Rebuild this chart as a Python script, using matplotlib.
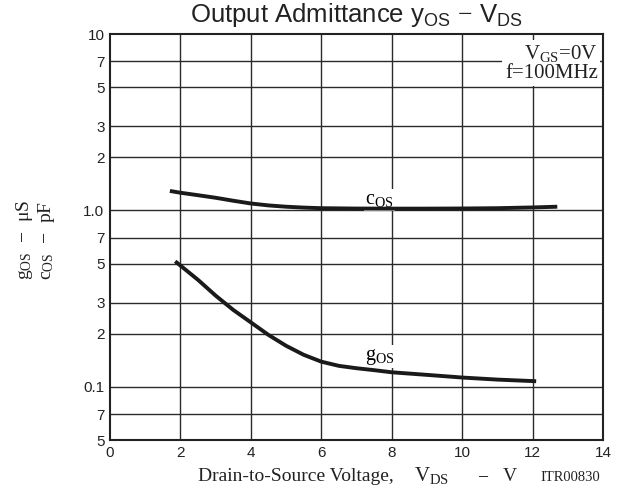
import numpy as np
import matplotlib.pyplot as plt

plt.rcParams['mathtext.fontset'] = 'custom'
plt.rcParams['mathtext.rm'] = 'Liberation Serif'
plt.rcParams['mathtext.it'] = 'Liberation Serif'
plt.rcParams['mathtext.sf'] = 'Liberation Sans'

# curve data
vds_c = [1.7, 2.0, 2.5, 3.0, 3.5, 4.0, 4.5, 5.0, 5.5, 6.0, 7.0, 8.0, 9.0, 10.0, 11.0, 12.0, 12.7]
cos_vals = [1.29, 1.26, 1.22, 1.18, 1.135, 1.095, 1.068, 1.05, 1.038, 1.03, 1.025, 1.024, 1.024,
            1.026, 1.03, 1.04, 1.05]
vds_g = [1.85, 2.0, 2.5, 3.0, 3.5, 4.0, 4.5, 5.0, 5.5, 6.0, 6.5, 7.0, 7.5, 8.0, 9.0, 10.0, 11.0, 12.1]
gos_vals = [0.515, 0.487, 0.404, 0.329, 0.273, 0.232, 0.197, 0.171, 0.152, 0.139, 0.1316, 0.1276,
            0.1244, 0.121, 0.117, 0.113, 0.110, 0.1077]

y_ticks = [10, 7, 5, 3, 2, 1.0, 0.7, 0.5, 0.3, 0.2, 0.1, 0.07, 0.05]
y_labels = ['10', '7', '5', '3', '2', '1.0', '7', '5', '3', '2', '0.1', '7', '5']
x_ticks = [0, 2, 4, 6, 8, 10, 12, 14]

fig = plt.figure(figsize=(6.23, 4.9), dpi=100)
ax = fig.add_axes([0.1766, 0.102, 0.7914, 0.8286])
ax.set_yscale('log')
ax.set_xlim(0, 14)
ax.set_ylim(0.05, 10)

ax.set_yticks(y_ticks)
ax.set_yticklabels(y_labels)
ax.yaxis.set_minor_locator(plt.NullLocator())
ax.set_xticks(x_ticks)
ax.tick_params(length=0, labelsize=11, pad=4)
for lab in ax.get_xticklabels() + ax.get_yticklabels():
    lab.set_fontfamily('Liberation Sans')
    lab.set_color('#222222')

for v in x_ticks[1:-1]:
    ax.axvline(v, color='#2a2a2a', lw=1.0, zorder=1)
for v in y_ticks[1:-1]:
    ax.axhline(v, color='#2a2a2a', lw=1.0, zorder=1)
for s in ax.spines.values():
    s.set_linewidth(1.5)
    s.set_color('#222222')

ax.plot(vds_c, cos_vals, color='#1a1a1a', lw=2.8, solid_capstyle='butt', zorder=3)
ax.plot(vds_g, gos_vals, color='#1a1a1a', lw=2.8, solid_capstyle='butt', zorder=3)

ax.text(7.65, 1.15, r'$\mathrm{c_{OS}}$', fontsize=14.5, ha='center', va='center',
        bbox=dict(facecolor='white', edgecolor='none', pad=1), zorder=2)
ax.text(7.65, 0.148, r'$\mathrm{g_{OS}}$', fontsize=14.5, ha='center', va='center',
        bbox=dict(facecolor='white', edgecolor='none', pad=1), zorder=2)

ax.text(13.85, 8.9, 'V$\\mathrm{_{GS}}$=0V\nf=100MHz', fontsize=15, ha='right', va='top',
        family='Liberation Serif', linespacing=1.0, color='#222222',
        bbox=dict(facecolor='white', edgecolor='none', pad=2), zorder=2)

fig.text(0.5725, 0.998, r'Output Admittance $\mathsf{y_{OS}}$ $-$ $\mathsf{V_{DS}}$',
         fontsize=18.5, family='Liberation Sans', ha='center', va='top', color='#222222')

fig.text(198 / 623, 0.018, 'Drain-to-Source Voltage,', fontsize=14,
         family='Liberation Serif', ha='left', va='baseline', color='#222222')
fig.text(414 / 623, 0.018, r'$\mathrm{V_{DS}}$', fontsize=15,
         family='Liberation Serif', ha='left', va='baseline', color='#222222')
fig.text(477 / 623, 0.018, r'$-$', fontsize=14,
         family='Liberation Serif', ha='left', va='baseline', color='#222222')
fig.text(503 / 623, 0.018, 'V', fontsize=14,
         family='Liberation Serif', ha='left', va='baseline', color='#222222')
fig.text(600 / 623, 0.018, 'ITR00830', fontsize=10.5, family='Liberation Serif',
         ha='right', va='baseline', color='#222222')

fig.text(0.040, 0.51, r'$\mathrm{g_{OS}}$  $-$  $\mathrm{\mu S}$', rotation=90, fontsize=14,
         family='Liberation Serif', ha='center', va='center', color='#222222')
fig.text(0.075, 0.51, r'$\mathrm{c_{OS}}$  $-$  pF', rotation=90, fontsize=14,
         family='Liberation Serif', ha='center', va='center', color='#222222')

fig.savefig('out.png', dpi=100)
